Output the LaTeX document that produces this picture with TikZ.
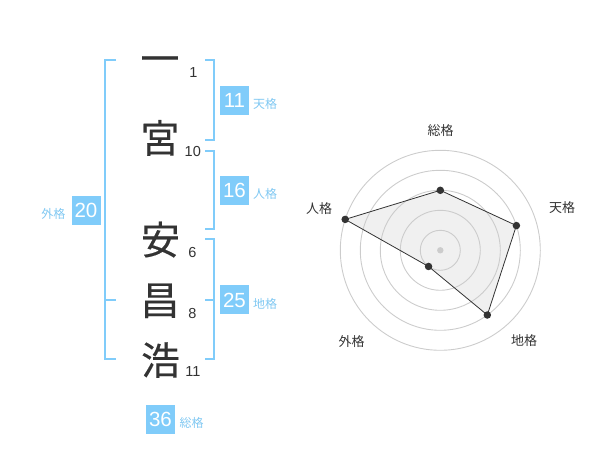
\documentclass[tikz,border=0pt]{standalone}
\usepackage{fontspec}
\usetikzlibrary{calc}
\setmainfont{Liberation Sans}
\newfontfamily\jp{Noto Sans CJK JP}
\newfontfamily\jpbig[FakeBold=0.3]{Noto Sans CJK JP}
\definecolor{ink}{HTML}{333333}
\definecolor{sky}{HTML}{80CCFA}
\definecolor{skytext}{HTML}{80C8F2}
\definecolor{ring}{HTML}{CCCCCC}
\definecolor{area}{HTML}{F0F0F0}
\tikzset{
  kanji/.style={inner sep=0pt, text height=34.3pt, text depth=4.7pt, text=ink, font=\jpbig\fontsize{39}{39}\selectfont},
  strokes/.style={inner sep=0pt, text=ink, font=\fontsize{14.5}{14.5}\selectfont},
  valbox/.style={fill=sky, minimum width=29pt, minimum height=29pt, inner sep=0pt, text=white, font=\fontsize{20.5}{20.5}\selectfont},
  kaku/.style={inner sep=0pt, text=skytext, font=\jp\fontsize{12}{12}\selectfont},
  bracket/.style={draw=sky, line width=2pt},
  ringline/.style={draw=ring, line width=0.9pt},
  axislabel/.style={inner sep=0pt, text=ink, font=\jp\fontsize{13}{13}\selectfont},
  dot/.style={circle, fill=ink, inner sep=0pt, minimum size=7.5pt},
  edge/.style={draw=ink, line width=0.8pt},
}
\begin{document}
\begin{tikzpicture}[x=1pt,y=-1pt]
\useasboundingbox (0,0) rectangle (600,470);
% name characters
\node[kanji] (c1) at (160,58.5) {一};
\node[kanji] (c2) at (160,138) {宮};
\node[kanji] (c3) at (160.5,239.5) {安};
\node[kanji] (c4) at (160,300) {昌};
\node[kanji] (c5) at (160.5,360) {浩};
% stroke counts
\node[strokes] (s1) at (193.3,72.2) {1};
\node[strokes] (s2) at (192.8,152) {10};
\node[strokes] (s3) at (192.3,253) {6};
\node[strokes] (s4) at (192.5,313.7) {8};
\node[strokes] (s5) at (192.8,371.7) {11};
% brackets
\draw[bracket] (116,60) -- (105,60) -- (105,359.3) -- (116,359.3);
\draw[bracket] (105,300) -- (116,300);
\draw[bracket] (205,60) -- (214,60) -- (214,140) -- (205,140);
\draw[bracket] (205,151) -- (214,151) -- (214,229.5) -- (205,229.5);
\draw[bracket] (205,239.5) -- (214,239.5) -- (214,359.3) -- (205,359.3);
\draw[bracket] (205,300) -- (214,300);
% values
\node[valbox] (ten) at (234.5,100.5) {11};
\node[kaku, anchor=west] (tenl) at (253,104) {天格};
\node[valbox] (jin) at (234.5,190.5) {16};
\node[kaku, anchor=west] (jinl) at (253,194) {人格};
\node[valbox] (chi) at (234.5,300) {25};
\node[kaku, anchor=west] (chil) at (253,303.5) {地格};
\node[valbox] (gai) at (86,210.5) {20};
\node[kaku, anchor=east] (gail) at (65.5,214) {外格};
\node[valbox] (sou) at (160.5,419) {36};
\node[kaku, anchor=west] (soul) at (179.5,422.5) {総格};
% radar
\coordinate (o) at (440.3,250.3);
\coordinate (pS) at ($(o)+(90:60pt)$);
\coordinate (pT) at ($(o)+(18:80pt)$);
\coordinate (pC) at ($(o)+(-54:80pt)$);
\coordinate (pG) at ($(o)+(-126:20pt)$);
\coordinate (pJ) at ($(o)+(162:100pt)$);
\fill[area] (pS) -- (pT) -- (pC) -- (pG) -- (pJ) -- cycle;
\foreach \r in {20,40,60,80,100} {\draw[ringline] (o) circle (\r pt);}
\fill[ring] (o) circle (3.2pt);
\draw[edge] (pS) -- (pT) -- (pC) -- (pG) -- (pJ) -- cycle;
\node[dot] (dS) at (pS) {};
\node[dot] (dT) at (pT) {};
\node[dot] (dC) at (pC) {};
\node[dot] (dG) at (pG) {};
\node[dot] (dJ) at (pJ) {};
\node[axislabel] (lS) at (440.7,130.7) {総格};
\node[axislabel] (lT) at (562,208) {天格};
\node[axislabel] (lJ) at (319,208.7) {人格};
\node[axislabel] (lC) at (524,341) {地格};
\node[axislabel] (lG) at (351.7,341.7) {外格};
\end{tikzpicture}
\end{document}
